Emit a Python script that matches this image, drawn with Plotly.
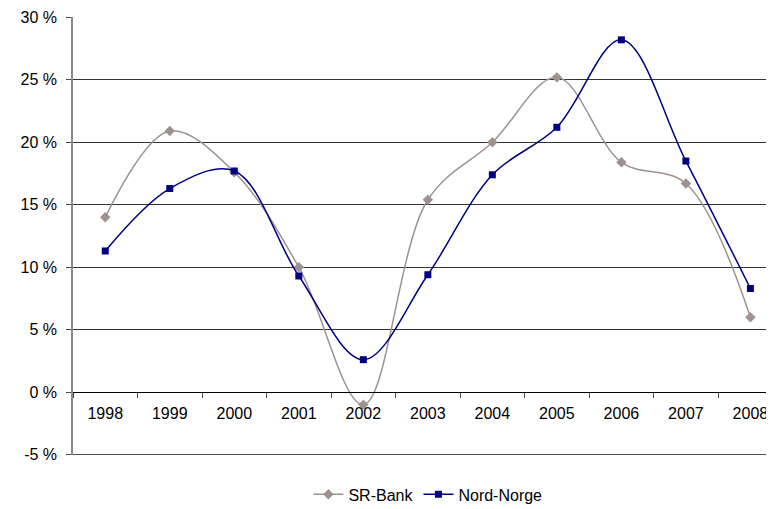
import plotly.graph_objects as go

years = ["1998", "1999", "2000", "2001", "2002", "2003", "2004", "2005", "2006", "2007", "2008"]
sr_bank = [14.0, 20.9, 17.6, 10.0, -1.0, 15.4, 20.0, 25.2, 18.4, 16.7, 6.0]
nord_norge = [11.3, 16.3, 17.7, 9.3, 2.6, 9.4, 17.4, 21.2, 28.2, 18.5, 8.3]
y_ticks = [-5, 0, 5, 10, 15, 20, 25, 30]
y_tick_labels = ["-5 %", "0 %", "5 %", "10 %", "15 %", "20 %", "25 %", "30 %"]

fig = go.Figure()
fig.add_trace(go.Scatter(
    x=years, y=sr_bank, name="SR-Bank", mode="lines+markers",
    line=dict(color="#9E9290", width=1.5, shape="spline", smoothing=1),
    marker=dict(symbol="diamond", size=8, color="#9E9290"),
))
fig.add_trace(go.Scatter(
    x=years, y=nord_norge, name="Nord-Norge", mode="lines+markers",
    line=dict(color="#000080", width=1.5, shape="spline", smoothing=1),
    marker=dict(symbol="square", size=7, color="#000080"),
))

# bottom gridline at the lowest tick (hidden by plotly at the plot edge)
fig.add_shape(type="line", xref="paper", x0=0, x1=1, yref="y",
              y0=min(y_ticks), y1=min(y_ticks), line=dict(color="#333", width=1),
              layer="below")

fig.update_layout(
    width=766, height=501,
    margin=dict(l=65, r=1, t=9, b=54, autoexpand=False),
    paper_bgcolor="white", plot_bgcolor="white",
    font=dict(family="Liberation Sans, Arial, sans-serif", size=16, color="black"),
    showlegend=True,
    legend=dict(orientation="h", x=0.507, xanchor="center", y=-0.09, yanchor="middle",
                font=dict(size=16, color="black"), traceorder="normal", itemwidth=30),
    xaxis=dict(
        type="category", range=[-0.5, 10.35],
        anchor="free", position=5 / 35, automargin=False,
        showline=True, linecolor="black", linewidth=1,
        ticks="outside", tickson="boundaries", ticklen=5, tickcolor="#444",
        showgrid=False, zeroline=False, ticklabelstandoff=6,
        tickfont=dict(size=16, color="black"),
    ),
    yaxis=dict(
        range=[-5.03, 30.03], tickvals=y_ticks, ticktext=y_tick_labels,
        showgrid=True, gridcolor="#333", gridwidth=1, automargin=False,
        zeroline=False,
        showline=True, linecolor="#888", linewidth=1.5,
        ticks="outside", ticklen=5, tickcolor="#444", ticklabelstandoff=6,
        tickfont=dict(size=16, color="black"),
    ),
)

fig.write_html("out.html")
